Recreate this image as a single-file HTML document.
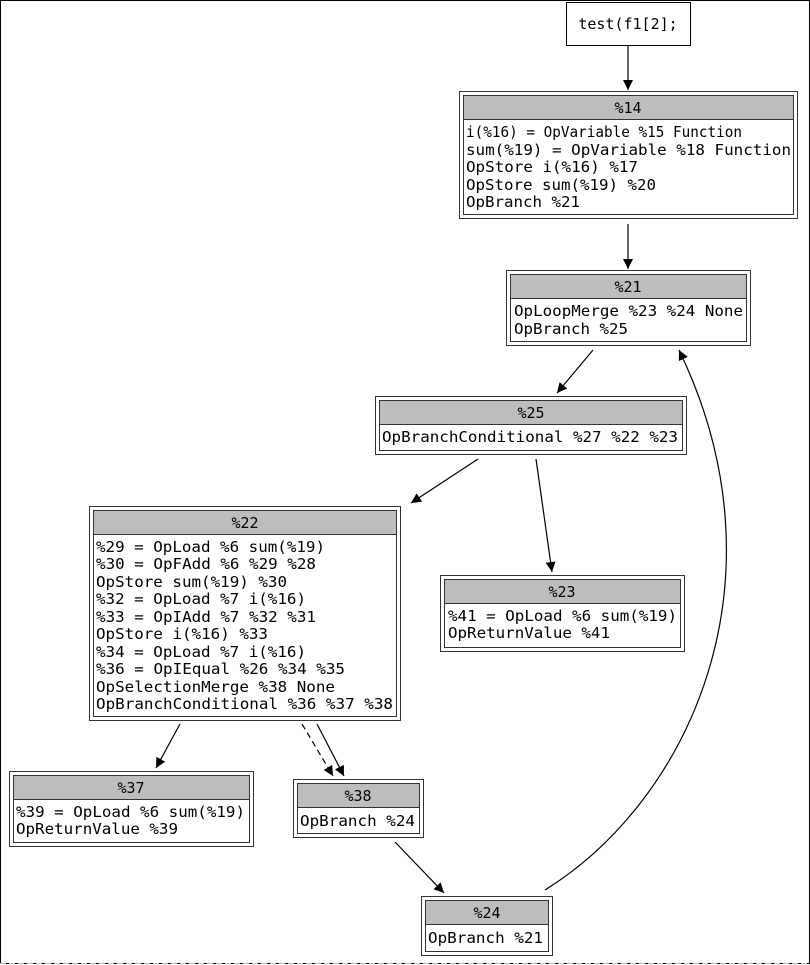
<!DOCTYPE html>
<html><head><meta charset="utf-8"><style>
html,body{margin:0;padding:0;background:#fff}
svg{display:block}
text{font-family:"DejaVu Sans Mono","Liberation Mono",monospace;font-size:15px;fill:#000}
</style></head><body>
<svg width="810" height="965" viewBox="0 0 810 965" xmlns="http://www.w3.org/2000/svg">
<defs><marker id="a" viewBox="0 0 10 10" refX="10" refY="5" markerWidth="10" markerHeight="10" markerUnits="userSpaceOnUse" orient="auto"><path d="M0,0 L10,5 L0,10 z" fill="#000"/></marker></defs>
<rect x="0.5" y="0.5" width="809" height="963" fill="#fff" stroke="#000"/>
<line x1="0" y1="963.5" x2="810" y2="963.5" stroke="#bbb" stroke-dasharray="6,3"/>
<g fill="none" stroke="#000" stroke-width="1.2">
<line x1="628" y1="45" x2="628" y2="90" marker-end="url(#a)"/>
<line x1="628" y1="224" x2="628" y2="269" marker-end="url(#a)"/>
<line x1="593" y1="350" x2="557" y2="393" marker-end="url(#a)"/>
<line x1="478" y1="459" x2="411" y2="503" marker-end="url(#a)"/>
<line x1="536" y1="459" x2="552" y2="572" marker-end="url(#a)"/>
<line x1="180" y1="724" x2="156" y2="768" marker-end="url(#a)"/>
<line x1="302" y1="724" x2="333" y2="776" stroke-dasharray="6,4" marker-end="url(#a)"/>
<line x1="317" y1="724" x2="344" y2="776" marker-end="url(#a)"/>
<line x1="395" y1="842" x2="444" y2="893" marker-end="url(#a)"/>
<path d="M545,890 C690,800 790,580 679,350" marker-end="url(#a)"/>
</g>
<g fill="#fff" stroke="#000">
<rect x="566.5" y="2.5" width="124" height="43"/>
</g>
<text x="628" y="29" text-anchor="middle">test(f1[2];</text>

<!-- node helper: outer, inner, header -->
<g stroke="#333" stroke-width="1">
<rect x="459.5" y="91.5" width="338" height="127" fill="#fff"/><rect x="463.5" y="95.5" width="330" height="119" fill="#fff"/><rect x="463.5" y="95.5" width="330" height="24" fill="#bdbdbd"/>
<rect x="506.5" y="270.5" width="244" height="75" fill="#fff"/><rect x="510.5" y="274.5" width="236" height="67" fill="#fff"/><rect x="510.5" y="274.5" width="236" height="24" fill="#bdbdbd"/>
<rect x="375.5" y="396.5" width="311" height="58" fill="#fff"/><rect x="379.5" y="400.5" width="303" height="50" fill="#fff"/><rect x="379.5" y="400.5" width="303" height="24" fill="#bdbdbd"/>
<rect x="89.5" y="506.5" width="311" height="214" fill="#fff"/><rect x="93.5" y="510.5" width="303" height="206" fill="#fff"/><rect x="93.5" y="510.5" width="303" height="24" fill="#bdbdbd"/>
<rect x="440.5" y="575.5" width="244" height="76" fill="#fff"/><rect x="444.5" y="579.5" width="236" height="68" fill="#fff"/><rect x="444.5" y="579.5" width="236" height="24" fill="#bdbdbd"/>
<rect x="9.5" y="771.5" width="244" height="75" fill="#fff"/><rect x="13.5" y="775.5" width="236" height="67" fill="#fff"/><rect x="13.5" y="775.5" width="236" height="24" fill="#bdbdbd"/>
<rect x="293.5" y="779.5" width="130" height="58" fill="#fff"/><rect x="297.5" y="783.5" width="122" height="50" fill="#fff"/><rect x="297.5" y="783.5" width="122" height="24" fill="#bdbdbd"/>
<rect x="421.5" y="896.5" width="131" height="59" fill="#fff"/><rect x="425.5" y="900.5" width="123" height="51" fill="#fff"/><rect x="425.5" y="900.5" width="123" height="24" fill="#bdbdbd"/>
</g>

<text x="628" y="113" text-anchor="middle">%14</text>
<text x="466" y="137" textLength="276" lengthAdjust="spacingAndGlyphs">i(%16) = OpVariable %15 Function</text>
<text x="466" y="155" textLength="325" lengthAdjust="spacingAndGlyphs">sum(%19) = OpVariable %18 Function</text>
<text x="466" y="172" textLength="172" lengthAdjust="spacingAndGlyphs">OpStore i(%16) %17</text>
<text x="466" y="190" textLength="190" lengthAdjust="spacingAndGlyphs">OpStore sum(%19) %20</text>
<text x="466" y="207" textLength="114" lengthAdjust="spacingAndGlyphs">OpBranch %21</text>

<text x="628" y="292" text-anchor="middle">%21</text>
<text x="514" y="316" textLength="229" lengthAdjust="spacingAndGlyphs">OpLoopMerge %23 %24 None</text>
<text x="514" y="334" textLength="114" lengthAdjust="spacingAndGlyphs">OpBranch %25</text>

<text x="531" y="418" text-anchor="middle">%25</text>
<text x="382" y="442" textLength="296" lengthAdjust="spacingAndGlyphs">OpBranchConditional %27 %22 %23</text>

<text x="245" y="528" text-anchor="middle">%22</text>
<text x="96" y="552" textLength="229" lengthAdjust="spacingAndGlyphs">%29 = OpLoad %6 sum(%19)</text>
<text x="96" y="569" textLength="220" lengthAdjust="spacingAndGlyphs">%30 = OpFAdd %6 %29 %28</text>
<text x="96" y="587" textLength="191" lengthAdjust="spacingAndGlyphs">OpStore sum(%19) %30</text>
<text x="96" y="604" textLength="210" lengthAdjust="spacingAndGlyphs">%32 = OpLoad %7 i(%16)</text>
<text x="96" y="622" textLength="220" lengthAdjust="spacingAndGlyphs">%33 = OpIAdd %7 %32 %31</text>
<text x="96" y="639" textLength="172" lengthAdjust="spacingAndGlyphs">OpStore i(%16) %33</text>
<text x="96" y="657" textLength="210" lengthAdjust="spacingAndGlyphs">%34 = OpLoad %7 i(%16)</text>
<text x="96" y="674" textLength="249" lengthAdjust="spacingAndGlyphs">%36 = OpIEqual %26 %34 %35</text>
<text x="96" y="692" textLength="239" lengthAdjust="spacingAndGlyphs">OpSelectionMerge %38 None</text>
<text x="96" y="709" textLength="297" lengthAdjust="spacingAndGlyphs">OpBranchConditional %36 %37 %38</text>

<text x="562" y="597" text-anchor="middle">%23</text>
<text x="448" y="621" textLength="229" lengthAdjust="spacingAndGlyphs">%41 = OpLoad %6 sum(%19)</text>
<text x="448" y="638" textLength="162" lengthAdjust="spacingAndGlyphs">OpReturnValue %41</text>

<text x="131" y="793" text-anchor="middle">%37</text>
<text x="16" y="817" textLength="229" lengthAdjust="spacingAndGlyphs">%39 = OpLoad %6 sum(%19)</text>
<text x="16" y="834" textLength="162" lengthAdjust="spacingAndGlyphs">OpReturnValue %39</text>

<text x="358" y="801" text-anchor="middle">%38</text>
<text x="300" y="826" textLength="115" lengthAdjust="spacingAndGlyphs">OpBranch %24</text>

<text x="487" y="918" text-anchor="middle">%24</text>
<text x="428" y="943" textLength="115" lengthAdjust="spacingAndGlyphs">OpBranch %21</text>
</svg>
</body></html>
